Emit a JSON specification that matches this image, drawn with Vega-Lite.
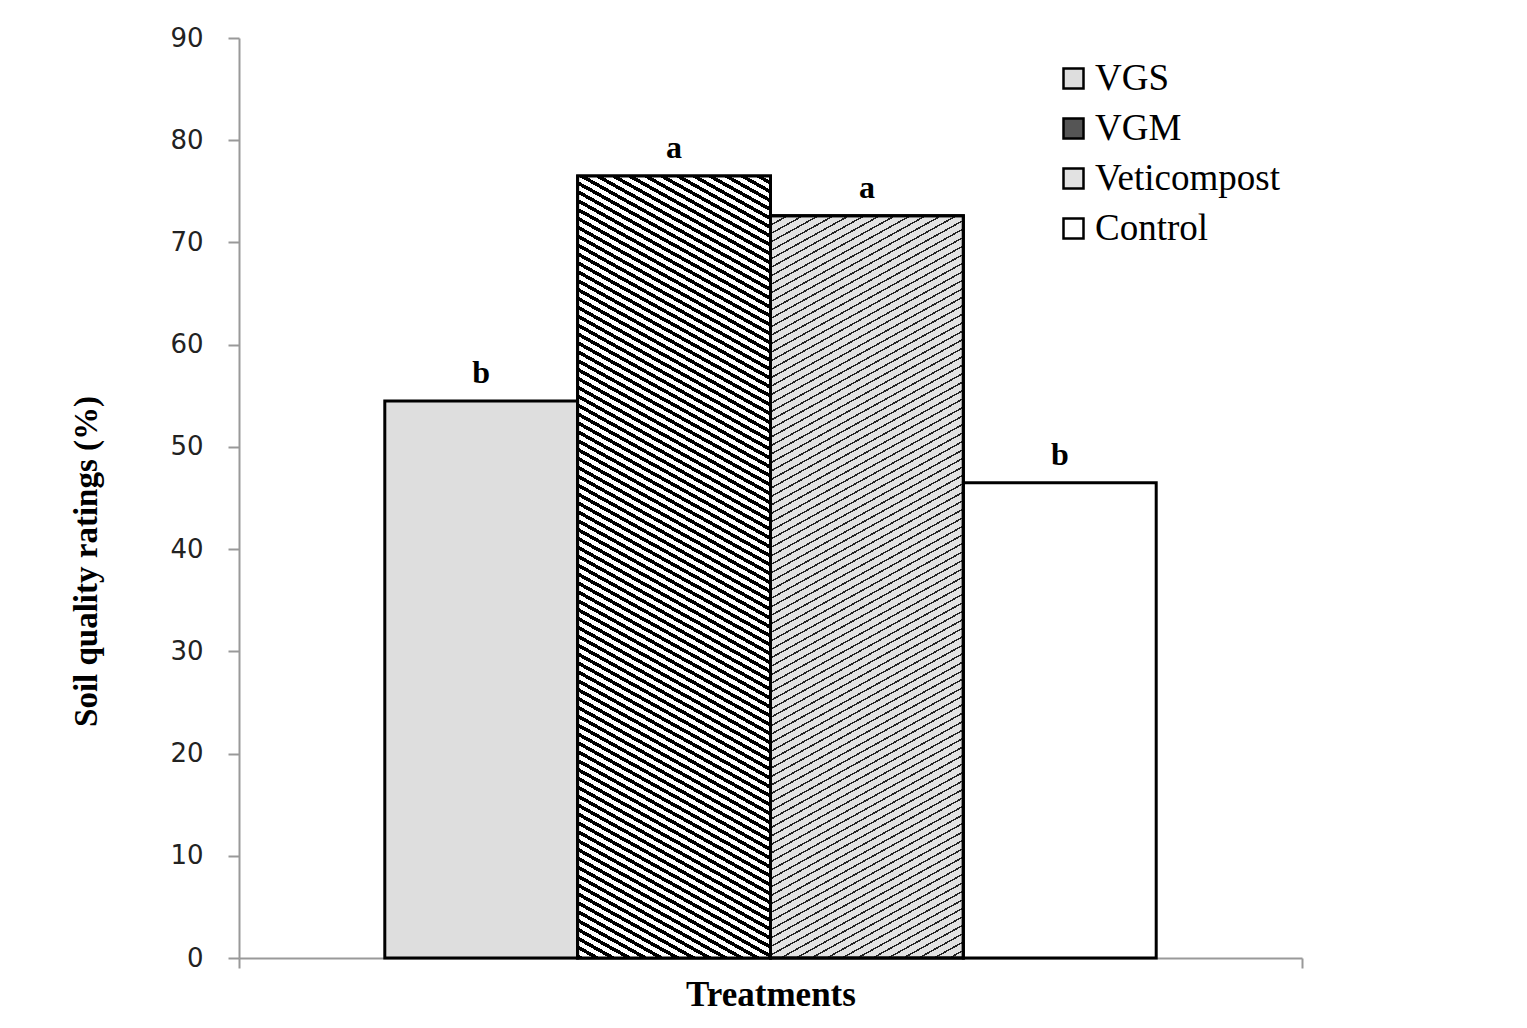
{
"$schema": "https://vega.github.io/schema/vega-lite/v6.json",
"width": 1063,
"height": 920,
"autosize": {"type": "none"},
"padding": {"left": 239, "top": 38, "right": 225, "bottom": 70},
"background": "#ffffff",
"config": {"view": {"stroke": null}},
"data": {"values": [
{"group": "Treatments", "treatment": "VGS", "value": 54.5, "letter": "b"},
{"group": "Treatments", "treatment": "VGM", "value": 76.5, "letter": "a"},
{"group": "Treatments", "treatment": "Veticompost", "value": 72.6, "letter": "a"},
{"group": "Treatments", "treatment": "Control", "value": 46.5, "letter": "b"}
]},
"encoding": {
"x": {"field": "group", "type": "nominal", "scale": {"paddingInner": 0, "paddingOuter": 0},
 "axis": {"title": "Treatments", "labels": false, "tickBand": "extent", "domainColor": "#999999", "domainWidth": 2, "tickColor": "#999999", "tickWidth": 2, "tickSize": 10, "titleFont": "Liberation Serif", "titleFontSize": 35, "titleFontWeight": "bold", "titleColor": "#000000", "titleY": 47, "titleBaseline": "alphabetic"}},
"xOffset": {"field": "treatment", "type": "nominal", "sort": ["VGS", "VGM", "Veticompost", "Control"], "scale": {"domain": ["VGS", "VGM", "Veticompost", "Control"], "paddingInner": 0, "paddingOuter": 0.756}},
"y": {"field": "value", "type": "quantitative", "scale": {"domain": [0, 90], "nice": false},
 "axis": {"values": [0, 10, 20, 30, 40, 50, 60, 70, 80, 90], "grid": false, "title": "Soil quality ratings (%)", "titleFont": "Liberation Serif", "titleFontSize": 33, "titleFontWeight": "bold", "titleColor": "#000000", "titleX": -153, "titleY": 523, "titleAngle": 270, "titleAlign": "center", "titleBaseline": "middle", "labelFont": "DejaVu Sans", "labelFontSize": 26, "labelColor": "#222222", "labelPadding": 25, "tickSize": 11, "tickColor": "#999999", "tickWidth": 2, "domainColor": "#999999", "domainWidth": 2}}
},
"layer": [
{"mark": {"type": "bar", "stroke": "#000000", "strokeWidth": 3, "opacity": 1},
 "encoding": {"color": {"field": "treatment", "type": "nominal", "scale": {"domain": ["VGS", "VGM", "Veticompost", "Control"], "range": ["#dedede", "#555555", "#e2e2e2", "#ffffff"]},
  "legend": {"title": null, "orient": "none", "legendX": 816, "legendY": 22, "symbolType": "square", "symbolSize": 400, "symbolStrokeColor": "#000000", "symbolStrokeWidth": 2.5, "symbolOpacity": 1, "labelFont": "Liberation Serif", "labelFontSize": 37, "labelColor": "#000000", "labelOffset": 3, "rowPadding": 12, "labelLimit": 500, "padding": 0}}}},
{"transform": [{"filter": "datum.treatment === 'VGM'"}],
 "mark": {"type": "bar", "stroke": "#000000", "strokeWidth": 3, "fill": {"gradient": "linear", "x1": 0, "y1": 1, "x2": 0.1522, "y2": -0.1157, "stops": [
{"offset":0.00,"color":"#000"},{"offset":0.0045,"color":"#000"},{"offset":0.0045,"color":"#fff"},{"offset":0.01,"color":"#fff"},
{"offset":0.01,"color":"#000"},{"offset":0.0145,"color":"#000"},{"offset":0.0145,"color":"#fff"},{"offset":0.02,"color":"#fff"},
{"offset":0.02,"color":"#000"},{"offset":0.0245,"color":"#000"},{"offset":0.0245,"color":"#fff"},{"offset":0.03,"color":"#fff"},
{"offset":0.03,"color":"#000"},{"offset":0.0345,"color":"#000"},{"offset":0.0345,"color":"#fff"},{"offset":0.04,"color":"#fff"},
{"offset":0.04,"color":"#000"},{"offset":0.0445,"color":"#000"},{"offset":0.0445,"color":"#fff"},{"offset":0.05,"color":"#fff"},
{"offset":0.05,"color":"#000"},{"offset":0.0545,"color":"#000"},{"offset":0.0545,"color":"#fff"},{"offset":0.06,"color":"#fff"},
{"offset":0.06,"color":"#000"},{"offset":0.0645,"color":"#000"},{"offset":0.0645,"color":"#fff"},{"offset":0.07,"color":"#fff"},
{"offset":0.07,"color":"#000"},{"offset":0.0745,"color":"#000"},{"offset":0.0745,"color":"#fff"},{"offset":0.08,"color":"#fff"},
{"offset":0.08,"color":"#000"},{"offset":0.0845,"color":"#000"},{"offset":0.0845,"color":"#fff"},{"offset":0.09,"color":"#fff"},
{"offset":0.09,"color":"#000"},{"offset":0.0945,"color":"#000"},{"offset":0.0945,"color":"#fff"},{"offset":0.10,"color":"#fff"},
{"offset":0.10,"color":"#000"},{"offset":0.1045,"color":"#000"},{"offset":0.1045,"color":"#fff"},{"offset":0.11,"color":"#fff"},
{"offset":0.11,"color":"#000"},{"offset":0.1145,"color":"#000"},{"offset":0.1145,"color":"#fff"},{"offset":0.12,"color":"#fff"},
{"offset":0.12,"color":"#000"},{"offset":0.1245,"color":"#000"},{"offset":0.1245,"color":"#fff"},{"offset":0.13,"color":"#fff"},
{"offset":0.13,"color":"#000"},{"offset":0.1345,"color":"#000"},{"offset":0.1345,"color":"#fff"},{"offset":0.14,"color":"#fff"},
{"offset":0.14,"color":"#000"},{"offset":0.1445,"color":"#000"},{"offset":0.1445,"color":"#fff"},{"offset":0.15,"color":"#fff"},
{"offset":0.15,"color":"#000"},{"offset":0.1545,"color":"#000"},{"offset":0.1545,"color":"#fff"},{"offset":0.16,"color":"#fff"},
{"offset":0.16,"color":"#000"},{"offset":0.1645,"color":"#000"},{"offset":0.1645,"color":"#fff"},{"offset":0.17,"color":"#fff"},
{"offset":0.17,"color":"#000"},{"offset":0.1745,"color":"#000"},{"offset":0.1745,"color":"#fff"},{"offset":0.18,"color":"#fff"},
{"offset":0.18,"color":"#000"},{"offset":0.1845,"color":"#000"},{"offset":0.1845,"color":"#fff"},{"offset":0.19,"color":"#fff"},
{"offset":0.19,"color":"#000"},{"offset":0.1945,"color":"#000"},{"offset":0.1945,"color":"#fff"},{"offset":0.20,"color":"#fff"},
{"offset":0.20,"color":"#000"},{"offset":0.2045,"color":"#000"},{"offset":0.2045,"color":"#fff"},{"offset":0.21,"color":"#fff"},
{"offset":0.21,"color":"#000"},{"offset":0.2145,"color":"#000"},{"offset":0.2145,"color":"#fff"},{"offset":0.22,"color":"#fff"},
{"offset":0.22,"color":"#000"},{"offset":0.2245,"color":"#000"},{"offset":0.2245,"color":"#fff"},{"offset":0.23,"color":"#fff"},
{"offset":0.23,"color":"#000"},{"offset":0.2345,"color":"#000"},{"offset":0.2345,"color":"#fff"},{"offset":0.24,"color":"#fff"},
{"offset":0.24,"color":"#000"},{"offset":0.2445,"color":"#000"},{"offset":0.2445,"color":"#fff"},{"offset":0.25,"color":"#fff"},
{"offset":0.25,"color":"#000"},{"offset":0.2545,"color":"#000"},{"offset":0.2545,"color":"#fff"},{"offset":0.26,"color":"#fff"},
{"offset":0.26,"color":"#000"},{"offset":0.2645,"color":"#000"},{"offset":0.2645,"color":"#fff"},{"offset":0.27,"color":"#fff"},
{"offset":0.27,"color":"#000"},{"offset":0.2745,"color":"#000"},{"offset":0.2745,"color":"#fff"},{"offset":0.28,"color":"#fff"},
{"offset":0.28,"color":"#000"},{"offset":0.2845,"color":"#000"},{"offset":0.2845,"color":"#fff"},{"offset":0.29,"color":"#fff"},
{"offset":0.29,"color":"#000"},{"offset":0.2945,"color":"#000"},{"offset":0.2945,"color":"#fff"},{"offset":0.30,"color":"#fff"},
{"offset":0.30,"color":"#000"},{"offset":0.3045,"color":"#000"},{"offset":0.3045,"color":"#fff"},{"offset":0.31,"color":"#fff"},
{"offset":0.31,"color":"#000"},{"offset":0.3145,"color":"#000"},{"offset":0.3145,"color":"#fff"},{"offset":0.32,"color":"#fff"},
{"offset":0.32,"color":"#000"},{"offset":0.3245,"color":"#000"},{"offset":0.3245,"color":"#fff"},{"offset":0.33,"color":"#fff"},
{"offset":0.33,"color":"#000"},{"offset":0.3345,"color":"#000"},{"offset":0.3345,"color":"#fff"},{"offset":0.34,"color":"#fff"},
{"offset":0.34,"color":"#000"},{"offset":0.3445,"color":"#000"},{"offset":0.3445,"color":"#fff"},{"offset":0.35,"color":"#fff"},
{"offset":0.35,"color":"#000"},{"offset":0.3545,"color":"#000"},{"offset":0.3545,"color":"#fff"},{"offset":0.36,"color":"#fff"},
{"offset":0.36,"color":"#000"},{"offset":0.3645,"color":"#000"},{"offset":0.3645,"color":"#fff"},{"offset":0.37,"color":"#fff"},
{"offset":0.37,"color":"#000"},{"offset":0.3745,"color":"#000"},{"offset":0.3745,"color":"#fff"},{"offset":0.38,"color":"#fff"},
{"offset":0.38,"color":"#000"},{"offset":0.3845,"color":"#000"},{"offset":0.3845,"color":"#fff"},{"offset":0.39,"color":"#fff"},
{"offset":0.39,"color":"#000"},{"offset":0.3945,"color":"#000"},{"offset":0.3945,"color":"#fff"},{"offset":0.40,"color":"#fff"},
{"offset":0.40,"color":"#000"},{"offset":0.4045,"color":"#000"},{"offset":0.4045,"color":"#fff"},{"offset":0.41,"color":"#fff"},
{"offset":0.41,"color":"#000"},{"offset":0.4145,"color":"#000"},{"offset":0.4145,"color":"#fff"},{"offset":0.42,"color":"#fff"},
{"offset":0.42,"color":"#000"},{"offset":0.4245,"color":"#000"},{"offset":0.4245,"color":"#fff"},{"offset":0.43,"color":"#fff"},
{"offset":0.43,"color":"#000"},{"offset":0.4345,"color":"#000"},{"offset":0.4345,"color":"#fff"},{"offset":0.44,"color":"#fff"},
{"offset":0.44,"color":"#000"},{"offset":0.4445,"color":"#000"},{"offset":0.4445,"color":"#fff"},{"offset":0.45,"color":"#fff"},
{"offset":0.45,"color":"#000"},{"offset":0.4545,"color":"#000"},{"offset":0.4545,"color":"#fff"},{"offset":0.46,"color":"#fff"},
{"offset":0.46,"color":"#000"},{"offset":0.4645,"color":"#000"},{"offset":0.4645,"color":"#fff"},{"offset":0.47,"color":"#fff"},
{"offset":0.47,"color":"#000"},{"offset":0.4745,"color":"#000"},{"offset":0.4745,"color":"#fff"},{"offset":0.48,"color":"#fff"},
{"offset":0.48,"color":"#000"},{"offset":0.4845,"color":"#000"},{"offset":0.4845,"color":"#fff"},{"offset":0.49,"color":"#fff"},
{"offset":0.49,"color":"#000"},{"offset":0.4945,"color":"#000"},{"offset":0.4945,"color":"#fff"},{"offset":0.50,"color":"#fff"},
{"offset":0.50,"color":"#000"},{"offset":0.5045,"color":"#000"},{"offset":0.5045,"color":"#fff"},{"offset":0.51,"color":"#fff"},
{"offset":0.51,"color":"#000"},{"offset":0.5145,"color":"#000"},{"offset":0.5145,"color":"#fff"},{"offset":0.52,"color":"#fff"},
{"offset":0.52,"color":"#000"},{"offset":0.5245,"color":"#000"},{"offset":0.5245,"color":"#fff"},{"offset":0.53,"color":"#fff"},
{"offset":0.53,"color":"#000"},{"offset":0.5345,"color":"#000"},{"offset":0.5345,"color":"#fff"},{"offset":0.54,"color":"#fff"},
{"offset":0.54,"color":"#000"},{"offset":0.5445,"color":"#000"},{"offset":0.5445,"color":"#fff"},{"offset":0.55,"color":"#fff"},
{"offset":0.55,"color":"#000"},{"offset":0.5545,"color":"#000"},{"offset":0.5545,"color":"#fff"},{"offset":0.56,"color":"#fff"},
{"offset":0.56,"color":"#000"},{"offset":0.5645,"color":"#000"},{"offset":0.5645,"color":"#fff"},{"offset":0.57,"color":"#fff"},
{"offset":0.57,"color":"#000"},{"offset":0.5745,"color":"#000"},{"offset":0.5745,"color":"#fff"},{"offset":0.58,"color":"#fff"},
{"offset":0.58,"color":"#000"},{"offset":0.5845,"color":"#000"},{"offset":0.5845,"color":"#fff"},{"offset":0.59,"color":"#fff"},
{"offset":0.59,"color":"#000"},{"offset":0.5945,"color":"#000"},{"offset":0.5945,"color":"#fff"},{"offset":0.60,"color":"#fff"},
{"offset":0.60,"color":"#000"},{"offset":0.6045,"color":"#000"},{"offset":0.6045,"color":"#fff"},{"offset":0.61,"color":"#fff"},
{"offset":0.61,"color":"#000"},{"offset":0.6145,"color":"#000"},{"offset":0.6145,"color":"#fff"},{"offset":0.62,"color":"#fff"},
{"offset":0.62,"color":"#000"},{"offset":0.6245,"color":"#000"},{"offset":0.6245,"color":"#fff"},{"offset":0.63,"color":"#fff"},
{"offset":0.63,"color":"#000"},{"offset":0.6345,"color":"#000"},{"offset":0.6345,"color":"#fff"},{"offset":0.64,"color":"#fff"},
{"offset":0.64,"color":"#000"},{"offset":0.6445,"color":"#000"},{"offset":0.6445,"color":"#fff"},{"offset":0.65,"color":"#fff"},
{"offset":0.65,"color":"#000"},{"offset":0.6545,"color":"#000"},{"offset":0.6545,"color":"#fff"},{"offset":0.66,"color":"#fff"},
{"offset":0.66,"color":"#000"},{"offset":0.6645,"color":"#000"},{"offset":0.6645,"color":"#fff"},{"offset":0.67,"color":"#fff"},
{"offset":0.67,"color":"#000"},{"offset":0.6745,"color":"#000"},{"offset":0.6745,"color":"#fff"},{"offset":0.68,"color":"#fff"},
{"offset":0.68,"color":"#000"},{"offset":0.6845,"color":"#000"},{"offset":0.6845,"color":"#fff"},{"offset":0.69,"color":"#fff"},
{"offset":0.69,"color":"#000"},{"offset":0.6945,"color":"#000"},{"offset":0.6945,"color":"#fff"},{"offset":0.70,"color":"#fff"},
{"offset":0.70,"color":"#000"},{"offset":0.7045,"color":"#000"},{"offset":0.7045,"color":"#fff"},{"offset":0.71,"color":"#fff"},
{"offset":0.71,"color":"#000"},{"offset":0.7145,"color":"#000"},{"offset":0.7145,"color":"#fff"},{"offset":0.72,"color":"#fff"},
{"offset":0.72,"color":"#000"},{"offset":0.7245,"color":"#000"},{"offset":0.7245,"color":"#fff"},{"offset":0.73,"color":"#fff"},
{"offset":0.73,"color":"#000"},{"offset":0.7345,"color":"#000"},{"offset":0.7345,"color":"#fff"},{"offset":0.74,"color":"#fff"},
{"offset":0.74,"color":"#000"},{"offset":0.7445,"color":"#000"},{"offset":0.7445,"color":"#fff"},{"offset":0.75,"color":"#fff"},
{"offset":0.75,"color":"#000"},{"offset":0.7545,"color":"#000"},{"offset":0.7545,"color":"#fff"},{"offset":0.76,"color":"#fff"},
{"offset":0.76,"color":"#000"},{"offset":0.7645,"color":"#000"},{"offset":0.7645,"color":"#fff"},{"offset":0.77,"color":"#fff"},
{"offset":0.77,"color":"#000"},{"offset":0.7745,"color":"#000"},{"offset":0.7745,"color":"#fff"},{"offset":0.78,"color":"#fff"},
{"offset":0.78,"color":"#000"},{"offset":0.7845,"color":"#000"},{"offset":0.7845,"color":"#fff"},{"offset":0.79,"color":"#fff"},
{"offset":0.79,"color":"#000"},{"offset":0.7945,"color":"#000"},{"offset":0.7945,"color":"#fff"},{"offset":0.80,"color":"#fff"},
{"offset":0.80,"color":"#000"},{"offset":0.8045,"color":"#000"},{"offset":0.8045,"color":"#fff"},{"offset":0.81,"color":"#fff"},
{"offset":0.81,"color":"#000"},{"offset":0.8145,"color":"#000"},{"offset":0.8145,"color":"#fff"},{"offset":0.82,"color":"#fff"},
{"offset":0.82,"color":"#000"},{"offset":0.8245,"color":"#000"},{"offset":0.8245,"color":"#fff"},{"offset":0.83,"color":"#fff"},
{"offset":0.83,"color":"#000"},{"offset":0.8345,"color":"#000"},{"offset":0.8345,"color":"#fff"},{"offset":0.84,"color":"#fff"},
{"offset":0.84,"color":"#000"},{"offset":0.8445,"color":"#000"},{"offset":0.8445,"color":"#fff"},{"offset":0.85,"color":"#fff"},
{"offset":0.85,"color":"#000"},{"offset":0.8545,"color":"#000"},{"offset":0.8545,"color":"#fff"},{"offset":0.86,"color":"#fff"},
{"offset":0.86,"color":"#000"},{"offset":0.8645,"color":"#000"},{"offset":0.8645,"color":"#fff"},{"offset":0.87,"color":"#fff"},
{"offset":0.87,"color":"#000"},{"offset":0.8745,"color":"#000"},{"offset":0.8745,"color":"#fff"},{"offset":0.88,"color":"#fff"},
{"offset":0.88,"color":"#000"},{"offset":0.8845,"color":"#000"},{"offset":0.8845,"color":"#fff"},{"offset":0.89,"color":"#fff"},
{"offset":0.89,"color":"#000"},{"offset":0.8945,"color":"#000"},{"offset":0.8945,"color":"#fff"},{"offset":0.90,"color":"#fff"},
{"offset":0.90,"color":"#000"},{"offset":0.9045,"color":"#000"},{"offset":0.9045,"color":"#fff"},{"offset":0.91,"color":"#fff"},
{"offset":0.91,"color":"#000"},{"offset":0.9145,"color":"#000"},{"offset":0.9145,"color":"#fff"},{"offset":0.92,"color":"#fff"},
{"offset":0.92,"color":"#000"},{"offset":0.9245,"color":"#000"},{"offset":0.9245,"color":"#fff"},{"offset":0.93,"color":"#fff"},
{"offset":0.93,"color":"#000"},{"offset":0.9345,"color":"#000"},{"offset":0.9345,"color":"#fff"},{"offset":0.94,"color":"#fff"},
{"offset":0.94,"color":"#000"},{"offset":0.9445,"color":"#000"},{"offset":0.9445,"color":"#fff"},{"offset":0.95,"color":"#fff"},
{"offset":0.95,"color":"#000"},{"offset":0.9545,"color":"#000"},{"offset":0.9545,"color":"#fff"},{"offset":0.96,"color":"#fff"},
{"offset":0.96,"color":"#000"},{"offset":0.9645,"color":"#000"},{"offset":0.9645,"color":"#fff"},{"offset":0.97,"color":"#fff"},
{"offset":0.97,"color":"#000"},{"offset":0.9745,"color":"#000"},{"offset":0.9745,"color":"#fff"},{"offset":0.98,"color":"#fff"},
{"offset":0.98,"color":"#000"},{"offset":0.9845,"color":"#000"},{"offset":0.9845,"color":"#fff"},{"offset":0.99,"color":"#fff"},
{"offset":0.99,"color":"#000"},{"offset":0.9945,"color":"#000"},{"offset":0.9945,"color":"#fff"},{"offset":1.00,"color":"#fff"}
]}}},
{"transform": [{"filter": "datum.treatment === 'Veticompost'"}],
 "mark": {"type": "bar", "stroke": "#000000", "strokeWidth": 3, "fill": {"gradient": "linear", "x1": 0, "y1": 0, "x2": 0.1611, "y2": 1.1206, "stops": [
{"offset":0.00,"color":"#222"},{"offset":0.002,"color":"#222"},{"offset":0.002,"color":"#0000"},{"offset":0.01,"color":"#0000"},
{"offset":0.01,"color":"#222"},{"offset":0.012,"color":"#222"},{"offset":0.012,"color":"#0000"},{"offset":0.02,"color":"#0000"},
{"offset":0.02,"color":"#222"},{"offset":0.022,"color":"#222"},{"offset":0.022,"color":"#0000"},{"offset":0.03,"color":"#0000"},
{"offset":0.03,"color":"#222"},{"offset":0.032,"color":"#222"},{"offset":0.032,"color":"#0000"},{"offset":0.04,"color":"#0000"},
{"offset":0.04,"color":"#222"},{"offset":0.042,"color":"#222"},{"offset":0.042,"color":"#0000"},{"offset":0.05,"color":"#0000"},
{"offset":0.05,"color":"#222"},{"offset":0.052,"color":"#222"},{"offset":0.052,"color":"#0000"},{"offset":0.06,"color":"#0000"},
{"offset":0.06,"color":"#222"},{"offset":0.062,"color":"#222"},{"offset":0.062,"color":"#0000"},{"offset":0.07,"color":"#0000"},
{"offset":0.07,"color":"#222"},{"offset":0.072,"color":"#222"},{"offset":0.072,"color":"#0000"},{"offset":0.08,"color":"#0000"},
{"offset":0.08,"color":"#222"},{"offset":0.082,"color":"#222"},{"offset":0.082,"color":"#0000"},{"offset":0.09,"color":"#0000"},
{"offset":0.09,"color":"#222"},{"offset":0.092,"color":"#222"},{"offset":0.092,"color":"#0000"},{"offset":0.10,"color":"#0000"},
{"offset":0.10,"color":"#222"},{"offset":0.102,"color":"#222"},{"offset":0.102,"color":"#0000"},{"offset":0.11,"color":"#0000"},
{"offset":0.11,"color":"#222"},{"offset":0.112,"color":"#222"},{"offset":0.112,"color":"#0000"},{"offset":0.12,"color":"#0000"},
{"offset":0.12,"color":"#222"},{"offset":0.122,"color":"#222"},{"offset":0.122,"color":"#0000"},{"offset":0.13,"color":"#0000"},
{"offset":0.13,"color":"#222"},{"offset":0.132,"color":"#222"},{"offset":0.132,"color":"#0000"},{"offset":0.14,"color":"#0000"},
{"offset":0.14,"color":"#222"},{"offset":0.142,"color":"#222"},{"offset":0.142,"color":"#0000"},{"offset":0.15,"color":"#0000"},
{"offset":0.15,"color":"#222"},{"offset":0.152,"color":"#222"},{"offset":0.152,"color":"#0000"},{"offset":0.16,"color":"#0000"},
{"offset":0.16,"color":"#222"},{"offset":0.162,"color":"#222"},{"offset":0.162,"color":"#0000"},{"offset":0.17,"color":"#0000"},
{"offset":0.17,"color":"#222"},{"offset":0.172,"color":"#222"},{"offset":0.172,"color":"#0000"},{"offset":0.18,"color":"#0000"},
{"offset":0.18,"color":"#222"},{"offset":0.182,"color":"#222"},{"offset":0.182,"color":"#0000"},{"offset":0.19,"color":"#0000"},
{"offset":0.19,"color":"#222"},{"offset":0.192,"color":"#222"},{"offset":0.192,"color":"#0000"},{"offset":0.20,"color":"#0000"},
{"offset":0.20,"color":"#222"},{"offset":0.202,"color":"#222"},{"offset":0.202,"color":"#0000"},{"offset":0.21,"color":"#0000"},
{"offset":0.21,"color":"#222"},{"offset":0.212,"color":"#222"},{"offset":0.212,"color":"#0000"},{"offset":0.22,"color":"#0000"},
{"offset":0.22,"color":"#222"},{"offset":0.222,"color":"#222"},{"offset":0.222,"color":"#0000"},{"offset":0.23,"color":"#0000"},
{"offset":0.23,"color":"#222"},{"offset":0.232,"color":"#222"},{"offset":0.232,"color":"#0000"},{"offset":0.24,"color":"#0000"},
{"offset":0.24,"color":"#222"},{"offset":0.242,"color":"#222"},{"offset":0.242,"color":"#0000"},{"offset":0.25,"color":"#0000"},
{"offset":0.25,"color":"#222"},{"offset":0.252,"color":"#222"},{"offset":0.252,"color":"#0000"},{"offset":0.26,"color":"#0000"},
{"offset":0.26,"color":"#222"},{"offset":0.262,"color":"#222"},{"offset":0.262,"color":"#0000"},{"offset":0.27,"color":"#0000"},
{"offset":0.27,"color":"#222"},{"offset":0.272,"color":"#222"},{"offset":0.272,"color":"#0000"},{"offset":0.28,"color":"#0000"},
{"offset":0.28,"color":"#222"},{"offset":0.282,"color":"#222"},{"offset":0.282,"color":"#0000"},{"offset":0.29,"color":"#0000"},
{"offset":0.29,"color":"#222"},{"offset":0.292,"color":"#222"},{"offset":0.292,"color":"#0000"},{"offset":0.30,"color":"#0000"},
{"offset":0.30,"color":"#222"},{"offset":0.302,"color":"#222"},{"offset":0.302,"color":"#0000"},{"offset":0.31,"color":"#0000"},
{"offset":0.31,"color":"#222"},{"offset":0.312,"color":"#222"},{"offset":0.312,"color":"#0000"},{"offset":0.32,"color":"#0000"},
{"offset":0.32,"color":"#222"},{"offset":0.322,"color":"#222"},{"offset":0.322,"color":"#0000"},{"offset":0.33,"color":"#0000"},
{"offset":0.33,"color":"#222"},{"offset":0.332,"color":"#222"},{"offset":0.332,"color":"#0000"},{"offset":0.34,"color":"#0000"},
{"offset":0.34,"color":"#222"},{"offset":0.342,"color":"#222"},{"offset":0.342,"color":"#0000"},{"offset":0.35,"color":"#0000"},
{"offset":0.35,"color":"#222"},{"offset":0.352,"color":"#222"},{"offset":0.352,"color":"#0000"},{"offset":0.36,"color":"#0000"},
{"offset":0.36,"color":"#222"},{"offset":0.362,"color":"#222"},{"offset":0.362,"color":"#0000"},{"offset":0.37,"color":"#0000"},
{"offset":0.37,"color":"#222"},{"offset":0.372,"color":"#222"},{"offset":0.372,"color":"#0000"},{"offset":0.38,"color":"#0000"},
{"offset":0.38,"color":"#222"},{"offset":0.382,"color":"#222"},{"offset":0.382,"color":"#0000"},{"offset":0.39,"color":"#0000"},
{"offset":0.39,"color":"#222"},{"offset":0.392,"color":"#222"},{"offset":0.392,"color":"#0000"},{"offset":0.40,"color":"#0000"},
{"offset":0.40,"color":"#222"},{"offset":0.402,"color":"#222"},{"offset":0.402,"color":"#0000"},{"offset":0.41,"color":"#0000"},
{"offset":0.41,"color":"#222"},{"offset":0.412,"color":"#222"},{"offset":0.412,"color":"#0000"},{"offset":0.42,"color":"#0000"},
{"offset":0.42,"color":"#222"},{"offset":0.422,"color":"#222"},{"offset":0.422,"color":"#0000"},{"offset":0.43,"color":"#0000"},
{"offset":0.43,"color":"#222"},{"offset":0.432,"color":"#222"},{"offset":0.432,"color":"#0000"},{"offset":0.44,"color":"#0000"},
{"offset":0.44,"color":"#222"},{"offset":0.442,"color":"#222"},{"offset":0.442,"color":"#0000"},{"offset":0.45,"color":"#0000"},
{"offset":0.45,"color":"#222"},{"offset":0.452,"color":"#222"},{"offset":0.452,"color":"#0000"},{"offset":0.46,"color":"#0000"},
{"offset":0.46,"color":"#222"},{"offset":0.462,"color":"#222"},{"offset":0.462,"color":"#0000"},{"offset":0.47,"color":"#0000"},
{"offset":0.47,"color":"#222"},{"offset":0.472,"color":"#222"},{"offset":0.472,"color":"#0000"},{"offset":0.48,"color":"#0000"},
{"offset":0.48,"color":"#222"},{"offset":0.482,"color":"#222"},{"offset":0.482,"color":"#0000"},{"offset":0.49,"color":"#0000"},
{"offset":0.49,"color":"#222"},{"offset":0.492,"color":"#222"},{"offset":0.492,"color":"#0000"},{"offset":0.50,"color":"#0000"},
{"offset":0.50,"color":"#222"},{"offset":0.502,"color":"#222"},{"offset":0.502,"color":"#0000"},{"offset":0.51,"color":"#0000"},
{"offset":0.51,"color":"#222"},{"offset":0.512,"color":"#222"},{"offset":0.512,"color":"#0000"},{"offset":0.52,"color":"#0000"},
{"offset":0.52,"color":"#222"},{"offset":0.522,"color":"#222"},{"offset":0.522,"color":"#0000"},{"offset":0.53,"color":"#0000"},
{"offset":0.53,"color":"#222"},{"offset":0.532,"color":"#222"},{"offset":0.532,"color":"#0000"},{"offset":0.54,"color":"#0000"},
{"offset":0.54,"color":"#222"},{"offset":0.542,"color":"#222"},{"offset":0.542,"color":"#0000"},{"offset":0.55,"color":"#0000"},
{"offset":0.55,"color":"#222"},{"offset":0.552,"color":"#222"},{"offset":0.552,"color":"#0000"},{"offset":0.56,"color":"#0000"},
{"offset":0.56,"color":"#222"},{"offset":0.562,"color":"#222"},{"offset":0.562,"color":"#0000"},{"offset":0.57,"color":"#0000"},
{"offset":0.57,"color":"#222"},{"offset":0.572,"color":"#222"},{"offset":0.572,"color":"#0000"},{"offset":0.58,"color":"#0000"},
{"offset":0.58,"color":"#222"},{"offset":0.582,"color":"#222"},{"offset":0.582,"color":"#0000"},{"offset":0.59,"color":"#0000"},
{"offset":0.59,"color":"#222"},{"offset":0.592,"color":"#222"},{"offset":0.592,"color":"#0000"},{"offset":0.60,"color":"#0000"},
{"offset":0.60,"color":"#222"},{"offset":0.602,"color":"#222"},{"offset":0.602,"color":"#0000"},{"offset":0.61,"color":"#0000"},
{"offset":0.61,"color":"#222"},{"offset":0.612,"color":"#222"},{"offset":0.612,"color":"#0000"},{"offset":0.62,"color":"#0000"},
{"offset":0.62,"color":"#222"},{"offset":0.622,"color":"#222"},{"offset":0.622,"color":"#0000"},{"offset":0.63,"color":"#0000"},
{"offset":0.63,"color":"#222"},{"offset":0.632,"color":"#222"},{"offset":0.632,"color":"#0000"},{"offset":0.64,"color":"#0000"},
{"offset":0.64,"color":"#222"},{"offset":0.642,"color":"#222"},{"offset":0.642,"color":"#0000"},{"offset":0.65,"color":"#0000"},
{"offset":0.65,"color":"#222"},{"offset":0.652,"color":"#222"},{"offset":0.652,"color":"#0000"},{"offset":0.66,"color":"#0000"},
{"offset":0.66,"color":"#222"},{"offset":0.662,"color":"#222"},{"offset":0.662,"color":"#0000"},{"offset":0.67,"color":"#0000"},
{"offset":0.67,"color":"#222"},{"offset":0.672,"color":"#222"},{"offset":0.672,"color":"#0000"},{"offset":0.68,"color":"#0000"},
{"offset":0.68,"color":"#222"},{"offset":0.682,"color":"#222"},{"offset":0.682,"color":"#0000"},{"offset":0.69,"color":"#0000"},
{"offset":0.69,"color":"#222"},{"offset":0.692,"color":"#222"},{"offset":0.692,"color":"#0000"},{"offset":0.70,"color":"#0000"},
{"offset":0.70,"color":"#222"},{"offset":0.702,"color":"#222"},{"offset":0.702,"color":"#0000"},{"offset":0.71,"color":"#0000"},
{"offset":0.71,"color":"#222"},{"offset":0.712,"color":"#222"},{"offset":0.712,"color":"#0000"},{"offset":0.72,"color":"#0000"},
{"offset":0.72,"color":"#222"},{"offset":0.722,"color":"#222"},{"offset":0.722,"color":"#0000"},{"offset":0.73,"color":"#0000"},
{"offset":0.73,"color":"#222"},{"offset":0.732,"color":"#222"},{"offset":0.732,"color":"#0000"},{"offset":0.74,"color":"#0000"},
{"offset":0.74,"color":"#222"},{"offset":0.742,"color":"#222"},{"offset":0.742,"color":"#0000"},{"offset":0.75,"color":"#0000"},
{"offset":0.75,"color":"#222"},{"offset":0.752,"color":"#222"},{"offset":0.752,"color":"#0000"},{"offset":0.76,"color":"#0000"},
{"offset":0.76,"color":"#222"},{"offset":0.762,"color":"#222"},{"offset":0.762,"color":"#0000"},{"offset":0.77,"color":"#0000"},
{"offset":0.77,"color":"#222"},{"offset":0.772,"color":"#222"},{"offset":0.772,"color":"#0000"},{"offset":0.78,"color":"#0000"},
{"offset":0.78,"color":"#222"},{"offset":0.782,"color":"#222"},{"offset":0.782,"color":"#0000"},{"offset":0.79,"color":"#0000"},
{"offset":0.79,"color":"#222"},{"offset":0.792,"color":"#222"},{"offset":0.792,"color":"#0000"},{"offset":0.80,"color":"#0000"},
{"offset":0.80,"color":"#222"},{"offset":0.802,"color":"#222"},{"offset":0.802,"color":"#0000"},{"offset":0.81,"color":"#0000"},
{"offset":0.81,"color":"#222"},{"offset":0.812,"color":"#222"},{"offset":0.812,"color":"#0000"},{"offset":0.82,"color":"#0000"},
{"offset":0.82,"color":"#222"},{"offset":0.822,"color":"#222"},{"offset":0.822,"color":"#0000"},{"offset":0.83,"color":"#0000"},
{"offset":0.83,"color":"#222"},{"offset":0.832,"color":"#222"},{"offset":0.832,"color":"#0000"},{"offset":0.84,"color":"#0000"},
{"offset":0.84,"color":"#222"},{"offset":0.842,"color":"#222"},{"offset":0.842,"color":"#0000"},{"offset":0.85,"color":"#0000"},
{"offset":0.85,"color":"#222"},{"offset":0.852,"color":"#222"},{"offset":0.852,"color":"#0000"},{"offset":0.86,"color":"#0000"},
{"offset":0.86,"color":"#222"},{"offset":0.862,"color":"#222"},{"offset":0.862,"color":"#0000"},{"offset":0.87,"color":"#0000"},
{"offset":0.87,"color":"#222"},{"offset":0.872,"color":"#222"},{"offset":0.872,"color":"#0000"},{"offset":0.88,"color":"#0000"},
{"offset":0.88,"color":"#222"},{"offset":0.882,"color":"#222"},{"offset":0.882,"color":"#0000"},{"offset":0.89,"color":"#0000"},
{"offset":0.89,"color":"#222"},{"offset":0.892,"color":"#222"},{"offset":0.892,"color":"#0000"},{"offset":0.90,"color":"#0000"},
{"offset":0.90,"color":"#222"},{"offset":0.902,"color":"#222"},{"offset":0.902,"color":"#0000"},{"offset":0.91,"color":"#0000"},
{"offset":0.91,"color":"#222"},{"offset":0.912,"color":"#222"},{"offset":0.912,"color":"#0000"},{"offset":0.92,"color":"#0000"},
{"offset":0.92,"color":"#222"},{"offset":0.922,"color":"#222"},{"offset":0.922,"color":"#0000"},{"offset":0.93,"color":"#0000"},
{"offset":0.93,"color":"#222"},{"offset":0.932,"color":"#222"},{"offset":0.932,"color":"#0000"},{"offset":0.94,"color":"#0000"},
{"offset":0.94,"color":"#222"},{"offset":0.942,"color":"#222"},{"offset":0.942,"color":"#0000"},{"offset":0.95,"color":"#0000"},
{"offset":0.95,"color":"#222"},{"offset":0.952,"color":"#222"},{"offset":0.952,"color":"#0000"},{"offset":0.96,"color":"#0000"},
{"offset":0.96,"color":"#222"},{"offset":0.962,"color":"#222"},{"offset":0.962,"color":"#0000"},{"offset":0.97,"color":"#0000"},
{"offset":0.97,"color":"#222"},{"offset":0.972,"color":"#222"},{"offset":0.972,"color":"#0000"},{"offset":0.98,"color":"#0000"},
{"offset":0.98,"color":"#222"},{"offset":0.982,"color":"#222"},{"offset":0.982,"color":"#0000"},{"offset":0.99,"color":"#0000"},
{"offset":0.99,"color":"#222"},{"offset":0.992,"color":"#222"},{"offset":0.992,"color":"#0000"},{"offset":1.00,"color":"#0000"}
]}}},
{"mark": {"type": "text", "font": "Liberation Serif", "fontWeight": "bold", "fontSize": 32, "dy": -18, "baseline": "alphabetic", "align": "center", "color": "#000000"},
 "encoding": {"text": {"field": "letter", "type": "nominal"}}}
]
}
